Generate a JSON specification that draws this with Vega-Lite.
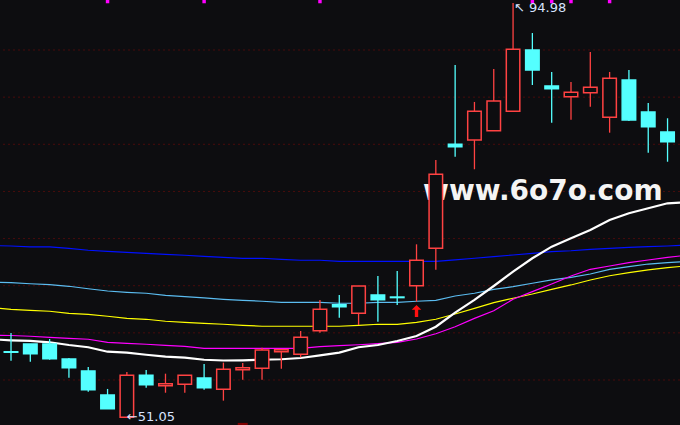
{
  "$schema": "https://vega.github.io/schema/vega-lite/v6.json",
  "width": 680,
  "height": 425,
  "autosize": {"type": "none"},
  "padding": 0,
  "background": "#0d0d10",
  "config": {"view": {"stroke": null}},
  "datasets": {
    "candles": [
      {"i": 0, "o": 58.00, "c": 57.94, "h": 59.99, "l": 57.05, "d": "down"},
      {"i": 1, "o": 58.82, "c": 57.79, "h": 58.82, "l": 56.94, "d": "down"},
      {"i": 2, "o": 58.82, "c": 57.26, "h": 59.35, "l": 57.15, "d": "down"},
      {"i": 3, "o": 57.23, "c": 56.30, "h": 57.33, "l": 55.24, "d": "down"},
      {"i": 4, "o": 55.96, "c": 53.97, "h": 56.38, "l": 53.76, "d": "down"},
      {"i": 5, "o": 53.41, "c": 51.96, "h": 54.05, "l": 51.96, "d": "down"},
      {"i": 6, "o": 51.05, "c": 55.50, "h": 55.85, "l": 51.05, "d": "up"},
      {"i": 7, "o": 55.50, "c": 54.50, "h": 56.06, "l": 54.18, "d": "down"},
      {"i": 8, "o": 54.40, "c": 54.61, "h": 55.67, "l": 53.65, "d": "up"},
      {"i": 9, "o": 54.54, "c": 55.50, "h": 55.50, "l": 53.65, "d": "up"},
      {"i": 10, "o": 55.21, "c": 54.18, "h": 56.70, "l": 53.97, "d": "down"},
      {"i": 11, "o": 54.01, "c": 56.14, "h": 56.84, "l": 52.81, "d": "up"},
      {"i": 12, "o": 56.09, "c": 56.31, "h": 56.80, "l": 55.03, "d": "up"},
      {"i": 13, "o": 56.24, "c": 58.18, "h": 58.43, "l": 55.03, "d": "up"},
      {"i": 14, "o": 58.00, "c": 58.21, "h": 58.26, "l": 56.20, "d": "up"},
      {"i": 15, "o": 57.73, "c": 59.53, "h": 60.20, "l": 57.41, "d": "up"},
      {"i": 16, "o": 60.23, "c": 62.50, "h": 63.49, "l": 60.02, "d": "up"},
      {"i": 17, "o": 62.99, "c": 62.77, "h": 64.02, "l": 61.61, "d": "down"},
      {"i": 18, "o": 62.07, "c": 64.97, "h": 64.97, "l": 60.83, "d": "up"},
      {"i": 19, "o": 64.02, "c": 63.52, "h": 66.03, "l": 61.18, "d": "down"},
      {"i": 20, "o": 63.80, "c": 63.74, "h": 66.56, "l": 62.96, "d": "down"},
      {"i": 21, "o": 65.00, "c": 67.70, "h": 69.39, "l": 63.31, "d": "up"},
      {"i": 22, "o": 68.97, "c": 76.82, "h": 78.33, "l": 66.70, "d": "up"},
      {"i": 23, "o": 80.00, "c": 79.74, "h": 88.41, "l": 78.68, "d": "down"},
      {"i": 24, "o": 80.46, "c": 83.50, "h": 84.49, "l": 77.35, "d": "up"},
      {"i": 25, "o": 81.44, "c": 84.59, "h": 87.99, "l": 81.44, "d": "up"},
      {"i": 26, "o": 83.50, "c": 90.07, "h": 94.98, "l": 83.50, "d": "up"},
      {"i": 27, "o": 90.00, "c": 87.88, "h": 91.80, "l": 86.29, "d": "down"},
      {"i": 28, "o": 86.18, "c": 85.90, "h": 87.67, "l": 82.29, "d": "down"},
      {"i": 29, "o": 85.05, "c": 85.51, "h": 86.61, "l": 82.61, "d": "up"},
      {"i": 30, "o": 85.47, "c": 86.04, "h": 89.79, "l": 83.99, "d": "up"},
      {"i": 31, "o": 82.86, "c": 87.00, "h": 87.67, "l": 81.23, "d": "up"},
      {"i": 32, "o": 86.82, "c": 82.58, "h": 87.88, "l": 82.47, "d": "down"},
      {"i": 33, "o": 83.42, "c": 81.87, "h": 84.38, "l": 79.11, "d": "down"},
      {"i": 34, "o": 81.30, "c": 80.27, "h": 82.76, "l": 78.15, "d": "down"}
    ],
    "ma": [
      {"i": -0.57, "w": 59.27, "m": 59.74, "yl": 62.60, "lb": 65.36, "bl": 69.24},
      {"i": 0, "w": 59.21, "m": 59.72, "yl": 62.50, "lb": 65.32, "bl": 69.21},
      {"i": 1, "w": 59.14, "m": 59.64, "yl": 62.39, "lb": 65.21, "bl": 69.11},
      {"i": 2, "w": 59.00, "m": 59.53, "yl": 62.29, "lb": 65.11, "bl": 69.11},
      {"i": 3, "w": 58.71, "m": 59.42, "yl": 62.07, "lb": 64.94, "bl": 68.97},
      {"i": 4, "w": 58.47, "m": 59.32, "yl": 61.97, "lb": 64.68, "bl": 68.76},
      {"i": 5, "w": 58.00, "m": 59.00, "yl": 61.76, "lb": 64.44, "bl": 68.65},
      {"i": 6, "w": 57.90, "m": 58.89, "yl": 61.54, "lb": 64.30, "bl": 68.54},
      {"i": 7, "w": 57.68, "m": 58.79, "yl": 61.44, "lb": 64.20, "bl": 68.44},
      {"i": 8, "w": 57.47, "m": 58.68, "yl": 61.23, "lb": 63.98, "bl": 68.33},
      {"i": 9, "w": 57.37, "m": 58.57, "yl": 61.12, "lb": 63.84, "bl": 68.23},
      {"i": 10, "w": 57.15, "m": 58.36, "yl": 61.01, "lb": 63.70, "bl": 68.12},
      {"i": 11, "w": 57.07, "m": 58.36, "yl": 60.91, "lb": 63.56, "bl": 68.01},
      {"i": 12, "w": 57.09, "m": 58.36, "yl": 60.80, "lb": 63.45, "bl": 67.91},
      {"i": 13, "w": 57.15, "m": 58.36, "yl": 60.70, "lb": 63.35, "bl": 67.91},
      {"i": 14, "w": 57.20, "m": 58.36, "yl": 60.70, "lb": 63.24, "bl": 67.80},
      {"i": 15, "w": 57.33, "m": 58.36, "yl": 60.70, "lb": 63.24, "bl": 67.70},
      {"i": 16, "w": 57.62, "m": 58.53, "yl": 60.70, "lb": 63.24, "bl": 67.70},
      {"i": 17, "w": 57.90, "m": 58.64, "yl": 60.70, "lb": 63.14, "bl": 67.59},
      {"i": 18, "w": 58.47, "m": 58.74, "yl": 60.80, "lb": 63.14, "bl": 67.59},
      {"i": 19, "w": 58.71, "m": 58.85, "yl": 60.91, "lb": 63.24, "bl": 67.59},
      {"i": 20, "w": 59.14, "m": 59.00, "yl": 60.91, "lb": 63.24, "bl": 67.59},
      {"i": 21, "w": 59.67, "m": 59.35, "yl": 61.12, "lb": 63.35, "bl": 67.59},
      {"i": 22, "w": 60.65, "m": 59.91, "yl": 61.44, "lb": 63.45, "bl": 67.59},
      {"i": 23, "w": 62.14, "m": 60.65, "yl": 62.00, "lb": 63.91, "bl": 67.73},
      {"i": 24, "w": 63.49, "m": 61.54, "yl": 62.60, "lb": 64.20, "bl": 67.91},
      {"i": 25, "w": 64.97, "m": 62.35, "yl": 63.20, "lb": 64.62, "bl": 68.08},
      {"i": 26, "w": 66.49, "m": 63.56, "yl": 63.67, "lb": 64.90, "bl": 68.26},
      {"i": 27, "w": 67.91, "m": 64.37, "yl": 64.12, "lb": 65.26, "bl": 68.44},
      {"i": 28, "w": 69.14, "m": 65.18, "yl": 64.62, "lb": 65.61, "bl": 68.61},
      {"i": 29, "w": 70.03, "m": 66.03, "yl": 65.08, "lb": 65.89, "bl": 68.71},
      {"i": 30, "w": 70.91, "m": 66.74, "yl": 65.61, "lb": 66.24, "bl": 68.86},
      {"i": 31, "w": 71.97, "m": 67.09, "yl": 66.06, "lb": 66.74, "bl": 68.97},
      {"i": 32, "w": 72.68, "m": 67.44, "yl": 66.38, "lb": 67.02, "bl": 69.07},
      {"i": 33, "w": 73.21, "m": 67.73, "yl": 66.67, "lb": 67.30, "bl": 69.14},
      {"i": 34, "w": 73.74, "m": 68.01, "yl": 66.91, "lb": 67.44, "bl": 69.21},
      {"i": 34.645, "w": 73.81, "m": 68.15, "yl": 67.04, "lb": 67.52, "bl": 69.27}
    ],
    "grid": [{"g": 55}, {"g": 60}, {"g": 65}, {"g": 70}, {"g": 75}, {"g": 80}, {"g": 85}, {"g": 90}],
    "markers": [{"i": 5, "p": 95.14}, {"i": 10, "p": 95.14}, {"i": 16, "p": 95.14}, {"i": 27, "p": 95.14}, {"i": 28, "p": 95.14}, {"i": 29, "p": 95.14}, {"i": 31, "p": 95.14}],
    "labels": [
      {"i": 26.05, "p": 94.45, "t": "↖ 94.98"},
      {"i": 6.0, "p": 51.08, "t": "←51.05"}
    ],
    "signal": [{"i": 21, "p": 62.32}],
    "bottom": [{"i": 12, "p1": 50.23, "p2": 50.45}],
    "watermark": [{"i": 21.34, "p": 74.09, "t": "www.6o7o.com"}]
  },
  "layer": [
    {
      "data": {"name": "grid"},
      "mark": {"type": "rule", "color": "#4a0c0c", "strokeDash": [2, 3], "strokeWidth": 1},
      "encoding": {
        "y": {"field": "g", "type": "quantitative", "scale": {"domain": [50.227, 95.303], "nice": false, "zero": false, "padding": 0}, "axis": null}
      }
    },
    {
      "data": {"name": "watermark"},
      "mark": {"type": "text", "font": "DejaVu Sans", "fontWeight": "bold", "fontSize": 28, "color": "#f4f4f4", "align": "left", "baseline": "alphabetic"},
      "encoding": {
        "x": {"field": "i", "type": "quantitative", "scale": {"domain": [-0.57, 34.645], "nice": false, "zero": false, "padding": 0}, "axis": null},
        "y": {"field": "p", "type": "quantitative", "scale": {"domain": [50.227, 95.303], "nice": false, "zero": false, "padding": 0}, "axis": null},
        "text": {"field": "t"}
      }
    },
    {
      "data": {"name": "ma"},
      "mark": {"type": "line", "color": "#0010ff", "strokeWidth": 1.2},
      "encoding": {
        "x": {"field": "i", "type": "quantitative", "scale": {"domain": [-0.57, 34.645], "nice": false, "zero": false, "padding": 0}, "axis": null},
        "y": {"field": "bl", "type": "quantitative", "scale": {"domain": [50.227, 95.303], "nice": false, "zero": false, "padding": 0}, "axis": null}
      }
    },
    {
      "data": {"name": "ma"},
      "mark": {"type": "line", "color": "#5bbcf0", "strokeWidth": 1.2},
      "encoding": {
        "x": {"field": "i", "type": "quantitative", "scale": {"domain": [-0.57, 34.645], "nice": false, "zero": false, "padding": 0}, "axis": null},
        "y": {"field": "lb", "type": "quantitative", "scale": {"domain": [50.227, 95.303], "nice": false, "zero": false, "padding": 0}, "axis": null}
      }
    },
    {
      "data": {"name": "ma"},
      "mark": {"type": "line", "color": "#ffff00", "strokeWidth": 1.2},
      "encoding": {
        "x": {"field": "i", "type": "quantitative", "scale": {"domain": [-0.57, 34.645], "nice": false, "zero": false, "padding": 0}, "axis": null},
        "y": {"field": "yl", "type": "quantitative", "scale": {"domain": [50.227, 95.303], "nice": false, "zero": false, "padding": 0}, "axis": null}
      }
    },
    {
      "data": {"name": "ma"},
      "mark": {"type": "line", "color": "#ff00ff", "strokeWidth": 1.2},
      "encoding": {
        "x": {"field": "i", "type": "quantitative", "scale": {"domain": [-0.57, 34.645], "nice": false, "zero": false, "padding": 0}, "axis": null},
        "y": {"field": "m", "type": "quantitative", "scale": {"domain": [50.227, 95.303], "nice": false, "zero": false, "padding": 0}, "axis": null}
      }
    },
    {
      "data": {"name": "ma"},
      "mark": {"type": "line", "color": "#ffffff", "strokeWidth": 2.2},
      "encoding": {
        "x": {"field": "i", "type": "quantitative", "scale": {"domain": [-0.57, 34.645], "nice": false, "zero": false, "padding": 0}, "axis": null},
        "y": {"field": "w", "type": "quantitative", "scale": {"domain": [50.227, 95.303], "nice": false, "zero": false, "padding": 0}, "axis": null}
      }
    },
    {
      "data": {"name": "candles"},
      "mark": {"type": "rule", "strokeWidth": 1.3},
      "encoding": {
        "x": {"field": "i", "type": "quantitative", "scale": {"domain": [-0.57, 34.645], "nice": false, "zero": false, "padding": 0}, "axis": null},
        "y": {"field": "l", "type": "quantitative", "scale": {"domain": [50.227, 95.303], "nice": false, "zero": false, "padding": 0}, "axis": null},
        "y2": {"field": "h"},
        "color": {"field": "d", "type": "nominal", "scale": {"domain": ["up", "down"], "range": ["#ff4242", "#54ffff"]}, "legend": null}
      }
    },
    {
      "data": {"name": "candles"},
      "mark": {"type": "bar", "size": 13.5, "strokeWidth": 1.5},
      "encoding": {
        "x": {"field": "i", "type": "quantitative", "scale": {"domain": [-0.57, 34.645], "nice": false, "zero": false, "padding": 0}, "axis": null},
        "y": {"field": "o", "type": "quantitative", "scale": {"domain": [50.227, 95.303], "nice": false, "zero": false, "padding": 0}, "axis": null},
        "y2": {"field": "c"},
        "fill": {"field": "d", "type": "nominal", "scale": {"domain": ["up", "down"], "range": ["#0d0d10", "#54ffff"]}, "legend": null},
        "stroke": {"field": "d", "type": "nominal", "scale": {"domain": ["up", "down"], "range": ["#ff4242", "#54ffff"]}, "legend": null}
      }
    },
    {
      "data": {"name": "signal"},
      "mark": {"type": "point", "shape": "M0,-1L0.8,-0.2L0.28,-0.2L0.28,1L-0.28,1L-0.28,-0.2L-0.8,-0.2Z", "filled": true, "color": "#ff1010", "size": 144, "opacity": 1},
      "encoding": {
        "x": {"field": "i", "type": "quantitative", "scale": {"domain": [-0.57, 34.645], "nice": false, "zero": false, "padding": 0}, "axis": null},
        "y": {"field": "p", "type": "quantitative", "scale": {"domain": [50.227, 95.303], "nice": false, "zero": false, "padding": 0}, "axis": null}
      }
    },
    {
      "data": {"name": "markers"},
      "mark": {"type": "point", "shape": "square", "filled": true, "color": "#ff00ff", "size": 12, "opacity": 1},
      "encoding": {
        "x": {"field": "i", "type": "quantitative", "scale": {"domain": [-0.57, 34.645], "nice": false, "zero": false, "padding": 0}, "axis": null},
        "y": {"field": "p", "type": "quantitative", "scale": {"domain": [50.227, 95.303], "nice": false, "zero": false, "padding": 0}, "axis": null}
      }
    },
    {
      "data": {"name": "bottom"},
      "mark": {"type": "bar", "size": 10, "color": "#800000"},
      "encoding": {
        "x": {"field": "i", "type": "quantitative", "scale": {"domain": [-0.57, 34.645], "nice": false, "zero": false, "padding": 0}, "axis": null},
        "y": {"field": "p1", "type": "quantitative", "scale": {"domain": [50.227, 95.303], "nice": false, "zero": false, "padding": 0}, "axis": null},
        "y2": {"field": "p2"}
      }
    },
    {
      "data": {"name": "labels"},
      "mark": {"type": "text", "font": "DejaVu Sans", "fontSize": 13, "color": "#d8e4ff", "align": "left", "baseline": "middle"},
      "encoding": {
        "x": {"field": "i", "type": "quantitative", "scale": {"domain": [-0.57, 34.645], "nice": false, "zero": false, "padding": 0}, "axis": null},
        "y": {"field": "p", "type": "quantitative", "scale": {"domain": [50.227, 95.303], "nice": false, "zero": false, "padding": 0}, "axis": null},
        "text": {"field": "t"}
      }
    }
  ]
}
